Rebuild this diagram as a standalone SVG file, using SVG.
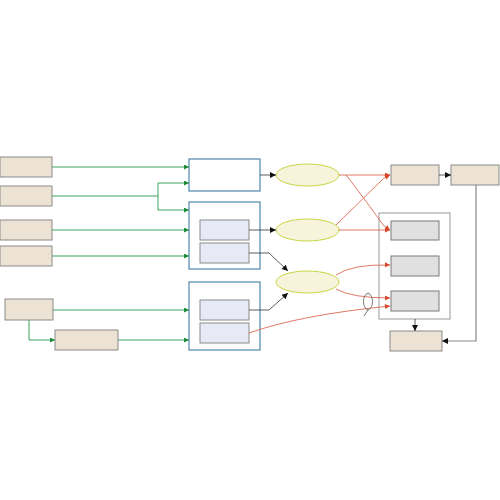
<svg xmlns="http://www.w3.org/2000/svg" width="500" height="500" viewBox="0 0 500 500">
<defs>
<marker id="ag" viewBox="0 0 10 10" refX="10" refY="5" markerWidth="8" markerHeight="5" orient="auto" markerUnits="userSpaceOnUse"><path d="M0,0 L10,5 L0,10 z" fill="#1f8a3c"/></marker>
<marker id="ak" viewBox="0 0 10 10" refX="10" refY="5" markerWidth="8" markerHeight="6" orient="auto" markerUnits="userSpaceOnUse"><path d="M0,0 L10,5 L0,10 z" fill="#111"/></marker>
<marker id="ar" viewBox="0 0 10 10" refX="10" refY="5" markerWidth="8" markerHeight="5" orient="auto" markerUnits="userSpaceOnUse"><path d="M0,0 L10,5 L0,10 z" fill="#d9472b"/></marker>
</defs>
<style>
.tan{fill:#ece3d5;stroke:#8a8a8a;stroke-width:1}
.blue{fill:#ffffff;stroke:#4f86b0;stroke-width:1.2}
.inner{fill:#e7eaf6;stroke:#8a8a8a;stroke-width:1}
.gray{fill:#e0e0e0;stroke:#7a7a7a;stroke-width:1}
.cont{fill:#ffffff;stroke:#9a9a9a;stroke-width:1}
.ell{fill:#f7f4db;stroke:#c8d645;stroke-width:1}
.g{fill:none;stroke:#3aa35c;stroke-width:1;marker-end:url(#ag)}
.k{fill:none;stroke:#333;stroke-width:0.8;marker-end:url(#ak)}
.r{fill:none;stroke:#de6a52;stroke-width:0.9;marker-end:url(#ar)}
.kn{fill:none;stroke:#777;stroke-width:1}
</style>
<rect width="500" height="500" fill="#ffffff"/>
<g id="A"><rect class="tan" x="0" y="157" width="52" height="20"/></g>
<g id="B"><rect class="tan" x="0" y="186" width="52" height="20"/></g>
<g id="C"><rect class="tan" x="0" y="220" width="52" height="20"/></g>
<g id="D"><rect class="tan" x="0" y="246" width="52" height="20"/></g>
<g id="E"><rect class="tan" x="5" y="299" width="48" height="21"/></g>
<g id="F"><rect class="tan" x="55" y="330" width="63" height="20"/></g>
<g id="G1"><rect class="blue" x="189" y="159" width="71" height="32"/></g>
<g id="G2"><rect class="blue" x="189" y="202" width="71" height="67"/>
<rect class="inner" x="200" y="220" width="49" height="20"/>
<rect class="inner" x="200" y="243" width="49" height="20"/></g>
<g id="G3"><rect class="blue" x="189" y="282" width="71" height="68"/>
<rect class="inner" x="200" y="300" width="49" height="20"/>
<rect class="inner" x="200" y="323" width="49" height="20"/></g>
<g id="E1"><ellipse class="ell" cx="307.5" cy="175" rx="31.5" ry="11"/></g>
<g id="E2"><ellipse class="ell" cx="307.5" cy="230" rx="31.5" ry="11"/></g>
<g id="E3"><ellipse class="ell" cx="307.5" cy="282" rx="31.5" ry="11"/></g>
<g id="R1"><rect class="tan" x="391" y="165" width="48" height="20"/></g>
<g id="R2"><rect class="tan" x="451" y="165" width="48" height="20"/></g>
<g id="K"><rect class="cont" x="379" y="213" width="71" height="106"/>
<rect class="gray" x="391" y="221" width="48" height="19"/>
<rect class="gray" x="391" y="256" width="48" height="20"/>
<rect class="gray" x="391" y="291" width="48" height="20"/></g>
<g id="Z"><rect class="tan" x="390" y="331" width="52" height="20"/></g>
<g id="connectors">
<path class="g" d="M52,167 H189"/>
<path class="g" d="M52,196 H158 V183 H189"/>
<path class="g" d="M158,196 V210 H189"/>
<path class="g" d="M52,230 H189"/>
<path class="g" d="M52,256 H189"/>
<path class="g" d="M53,310 H189"/>
<path class="g" d="M29,320 V340 H55"/>
<path class="g" d="M118,340 H189"/>
<path class="k" d="M260,175 H276"/>
<path class="k" d="M249,230 H276"/>
<path class="k" d="M249,253 H269 L288,271"/>
<path class="k" d="M249,310 H269 L288,293"/>
<path class="r" d="M339,175 H390"/>
<path class="r" d="M346,175 Q352,182 384,226 L390,230"/>
<path class="r" d="M336,225 L384,178 L390,175"/>
<path class="r" d="M339,230 H390"/>
<path class="r" d="M336,275 Q352,264 390,265"/>
<path class="r" d="M336,289 Q352,298 390,298"/>
<path class="r" d="M249,333 Q300,315 390,306"/>
<path class="kn" d="M368,293 C362,295 362,308 368,310 C374,308 374,295 368,293 M368,310 L364,316"/>
<path class="k" d="M439,175 H451"/>
<path class="k" d="M415,319 V331"/>
<path d="M476,185 V341 H442" fill="none" stroke="#888" stroke-width="1.2" marker-end="url(#ak)"/>
</g>
</svg>
